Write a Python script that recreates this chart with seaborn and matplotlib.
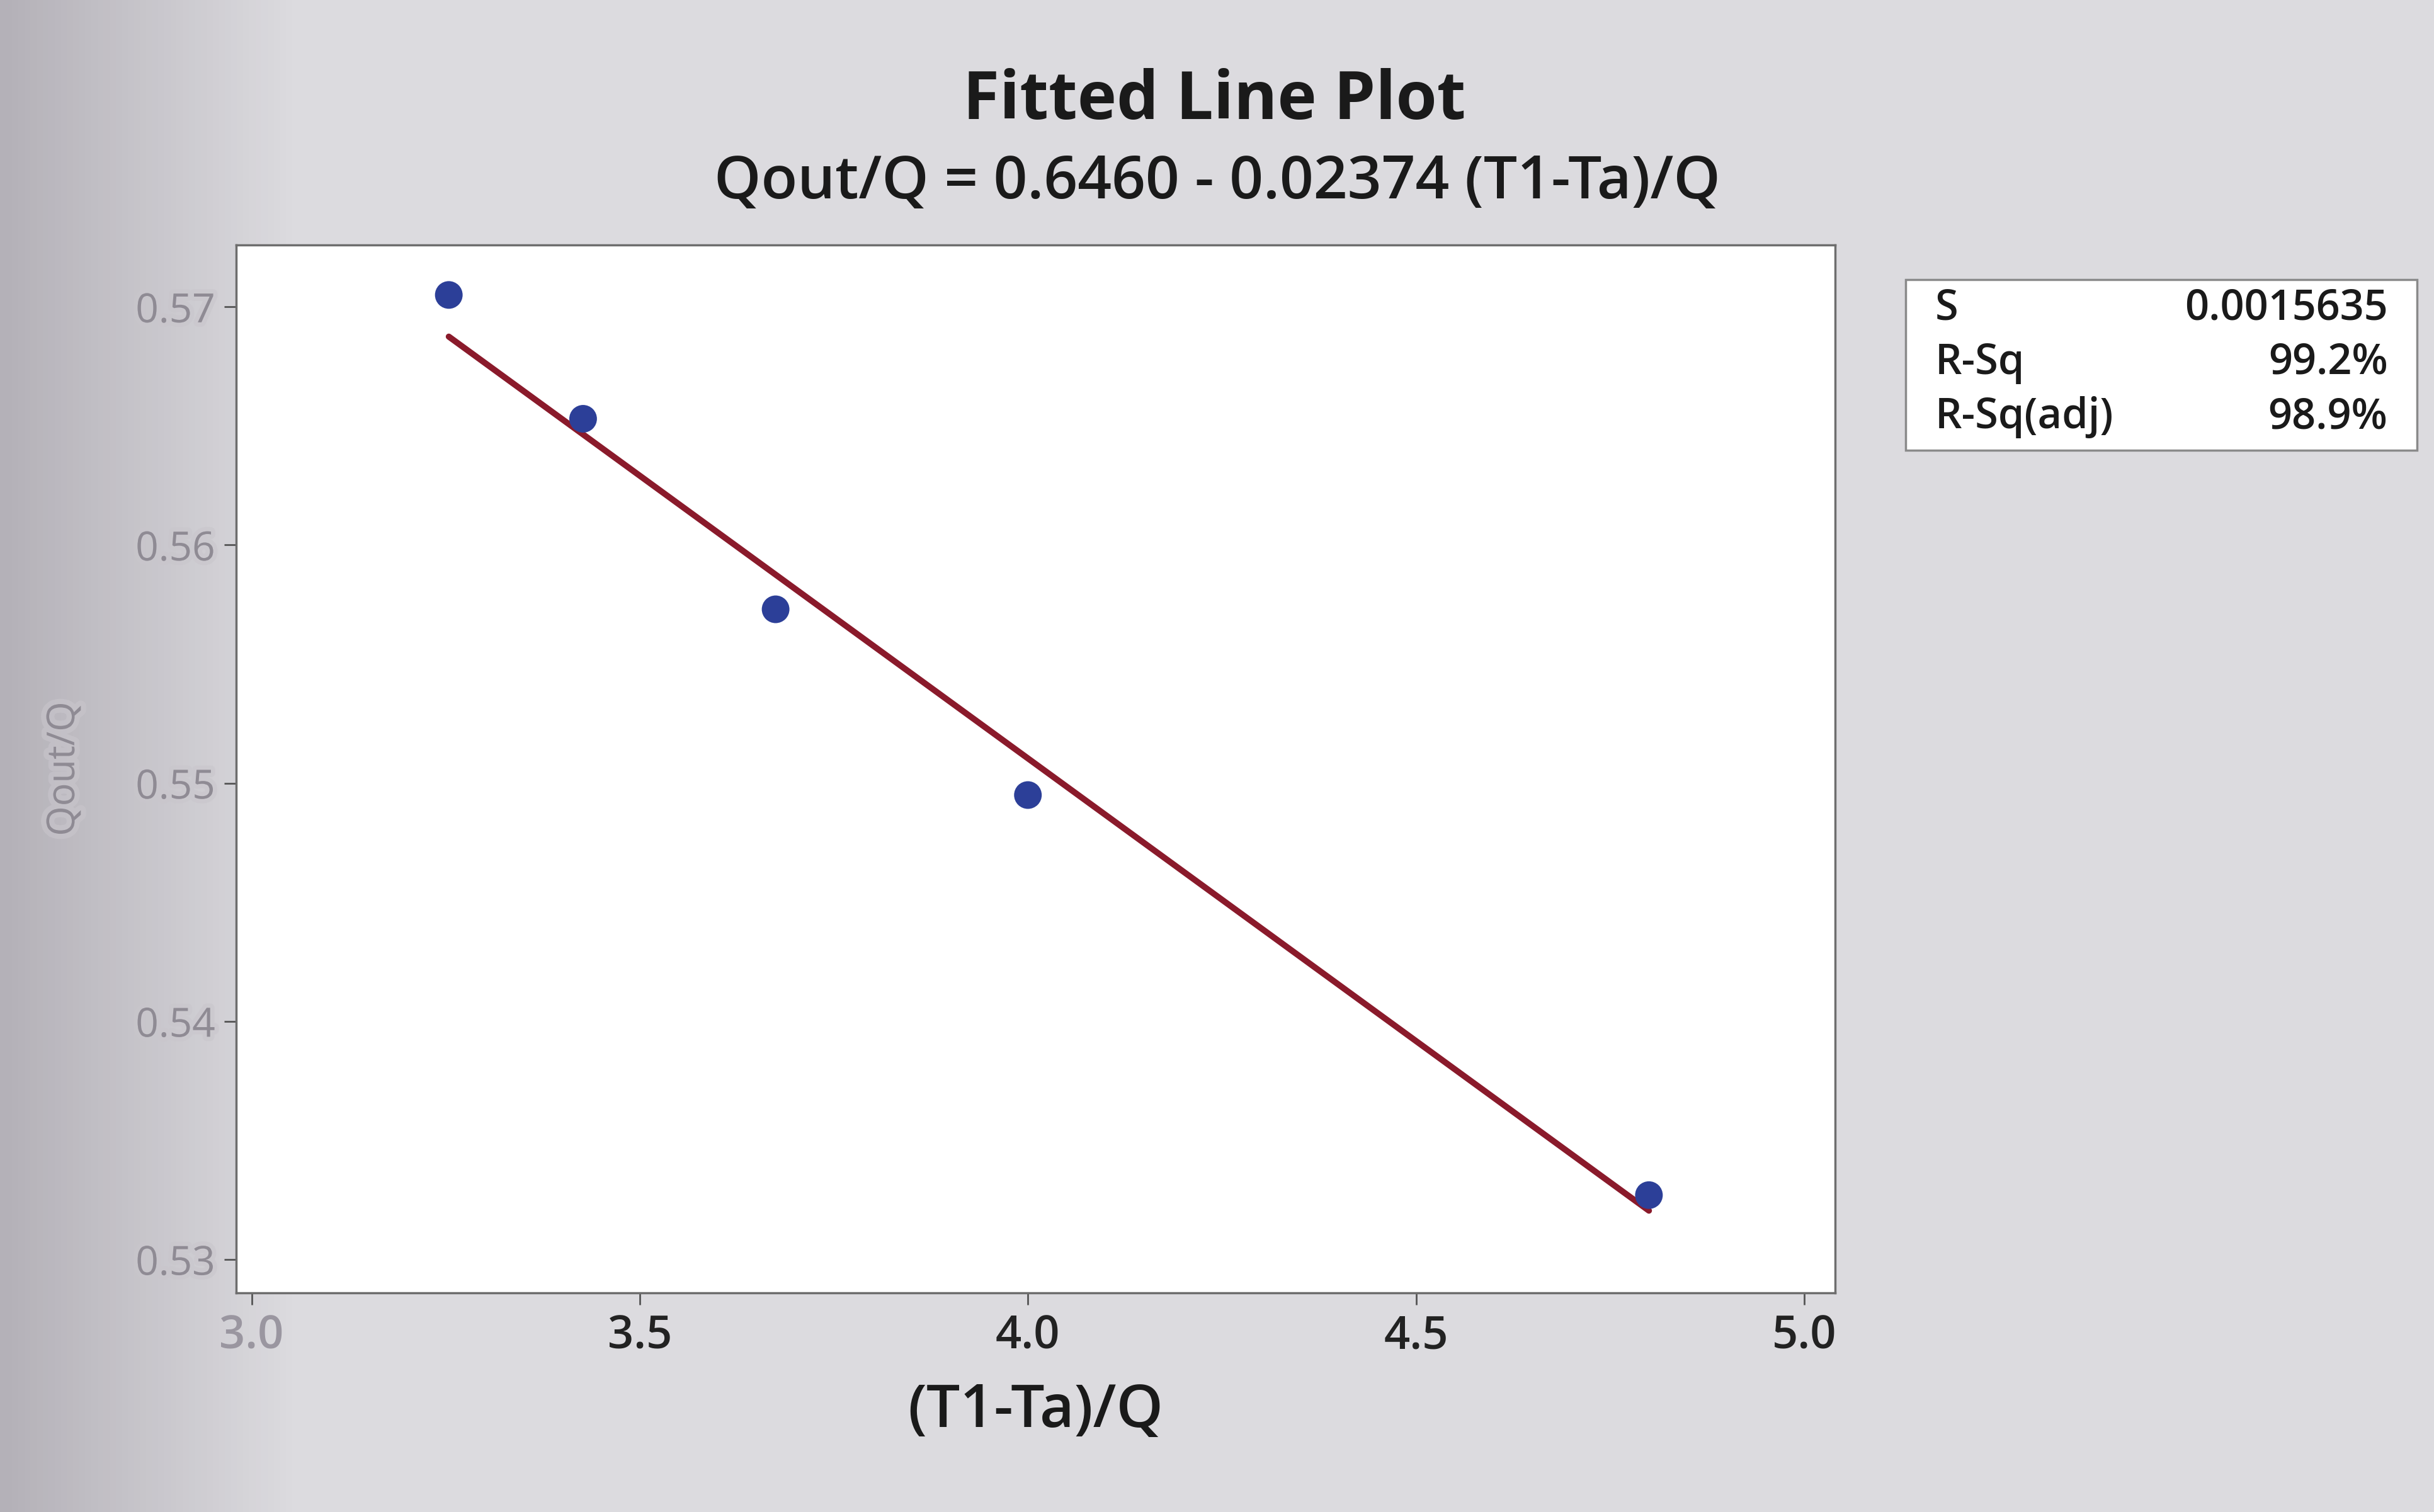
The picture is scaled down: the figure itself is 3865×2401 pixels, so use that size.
import numpy as np
import pandas as pd
import matplotlib
matplotlib.use("Agg")
import matplotlib.pyplot as plt
import matplotlib.patheffects as pe
from matplotlib.colors import LinearSegmentedColormap
import seaborn as sns

# Observations
ratio_x = [3.254, 3.427, 3.675, 4.000, 4.800]        # (T1-Ta)/Q
ratio_y = [0.5705, 0.5653, 0.5573, 0.5495, 0.5327]   # Qout/Q

# Regression summary
intercept = 0.6460
slope = -0.02374
stat_names = ["S", "R-Sq", "R-Sq(adj)"]
stat_values = ["0.0015635", "99.2%", "98.9%"]

x_ticks = [3.0, 3.5, 4.0, 4.5, 5.0]
y_ticks = [0.53, 0.54, 0.55, 0.56, 0.57]

sns.set_theme(style="white")
plt.rcParams["font.family"] = ["Open Sans", "DejaVu Sans"]

fig = plt.figure(figsize=(38.65, 24.01), dpi=100)
fig.patch.set_facecolor("#dcdbdf")

# page shading toward the left edge
bg = fig.add_axes([0, 0, 1, 1], zorder=-10)
xs = np.linspace(0, 1, 400)
grad = np.vstack([np.clip(xs / 0.12, 0, 1)] * 2)
cmap = LinearSegmentedColormap.from_list("page", ["#b4b1b8", "#dcdbdf"])
bg.imshow(grad, aspect="auto", cmap=cmap, extent=[0, 1, 0, 1])
bg.set_axis_off()

ax = fig.add_axes([0.097, 0.145, 0.657, 0.693])
ax.set_facecolor("white")

df = pd.DataFrame({"x": ratio_x, "y": ratio_y})
line_x = [min(ratio_x), max(ratio_x)]
fit = pd.DataFrame({"x": line_x, "y": [intercept + slope * v for v in line_x]})

sns.lineplot(data=fit, x="x", y="y", ax=ax, color="#8a1a2b", linewidth=7, zorder=2)
sns.scatterplot(data=df, x="x", y="y", ax=ax, color="#2c3f98", s=1000,
                edgecolor="none", zorder=3)

ax.set_xlim(2.98, 5.04)
ax.set_ylim(0.5286, 0.5726)
ax.set_xticks(x_ticks)
ax.set_yticks(y_ticks)
ax.set_xticklabels([f"{v:.1f}" for v in x_ticks])
ax.set_yticklabels([f"{v:.2f}" for v in y_ticks])
ax.tick_params(axis="both", direction="out", length=14, width=2, colors="#555555",
               labelsize=52, labelcolor="#222222", bottom=True, left=True, pad=10)
for lbl in ax.get_xticklabels():
    lbl.set_fontweight("semibold")
for lbl in ax.get_yticklabels():
    lbl.set_color("#8f8b94")
    lbl.set_fontsize(46)
    lbl.set_path_effects([pe.withStroke(linewidth=10, foreground="#c9c6cc", alpha=0.6)])
ax.get_xticklabels()[0].set_color("#9a96a0")

for sp in ax.spines.values():
    sp.set_color("#6d6d6d")
    sp.set_linewidth(2.5)

ax.set_xlabel("(T1-Ta)/Q", fontsize=68, fontweight="semibold", color="#1a1a1a", labelpad=26)
ylab = ax.set_ylabel("Qout/Q", fontsize=44, color="#8f8b94", labelpad=60)
ylab.set_path_effects([pe.withStroke(linewidth=12, foreground="#c9c6cc", alpha=0.6)])

fig.text(0.499, 0.933, "Fitted Line Plot", ha="center", va="center",
         fontsize=76, fontweight="bold", color="#1a1a1a")
fig.text(0.5, 0.879, "Qout/Q = 0.6460 - 0.02374 (T1-Ta)/Q", ha="center", va="center",
         fontsize=68, fontweight="semibold", color="#1a1a1a")

# statistics box
box = plt.Rectangle((0.783, 0.702), 0.210, 0.113, transform=fig.transFigure,
                    facecolor="white", edgecolor="#8a8a8a", linewidth=2.5, zorder=5)
fig.add_artist(box)
row_y = [0.796, 0.760, 0.724]
for name, val, yy in zip(stat_names, stat_values, row_y):
    fig.text(0.795, yy, name, ha="left", va="center", fontsize=48,
             fontweight="semibold", color="#1a1a1a", zorder=6)
    fig.text(0.981, yy, val, ha="right", va="center", fontsize=48,
             fontweight="semibold", color="#1a1a1a", zorder=6)

fig.savefig("out.png", dpi=100, facecolor=fig.get_facecolor())
